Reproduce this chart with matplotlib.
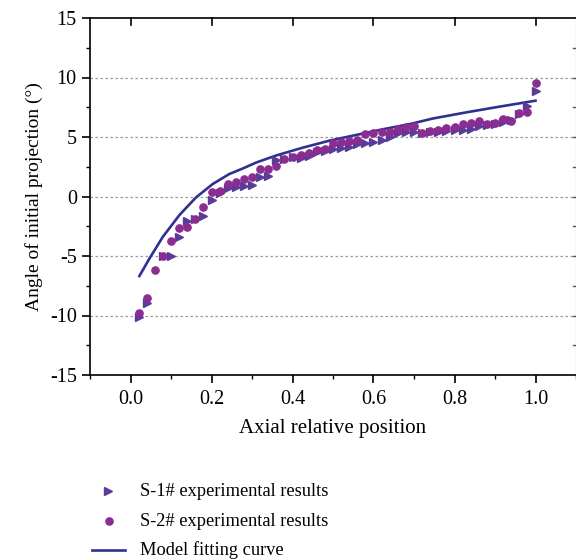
import numpy as np
import matplotlib.pyplot as plt
from matplotlib.lines import Line2D
from matplotlib.ticker import MultipleLocator

plt.rcParams['font.family'] = ['Liberation Serif', 'DejaVu Serif']
plt.rcParams['font.size'] = 13
plt.rcParams['axes.unicode_minus'] = False

# S-1# experimental results (triangles)
s1_x = [0.02, 0.04, 0.08, 0.10, 0.12, 0.14, 0.16, 0.18, 0.20, 0.22, 0.24, 0.26, 0.28, 0.30,
        0.32, 0.34, 0.36, 0.38, 0.40, 0.42, 0.44, 0.46, 0.48, 0.50, 0.52, 0.54, 0.56, 0.58,
        0.60, 0.62, 0.64, 0.66, 0.68, 0.70, 0.72, 0.74, 0.76, 0.78, 0.80, 0.82, 0.84, 0.86,
        0.88, 0.90, 0.92, 0.94, 0.96, 0.98, 1.00]
s1_y = [-10.1, -8.97, -5.0, -5.0, -3.43, -2.03, -1.9, -1.64, -0.29, 0.27, 0.69, 0.82, 0.88, 0.95,
        1.61, 1.72, 3.07, 3.15, 3.29, 3.21, 3.4, 3.7, 3.85, 3.97, 4.10, 4.19, 4.41, 4.52,
        4.61, 4.75, 5.0, 5.36, 5.45, 5.39, 5.3, 5.4, 5.45, 5.5, 5.55, 5.6, 5.7, 5.92,
        6.0, 6.1, 6.3, 6.4, 6.9, 7.6, 8.9]

# S-2# experimental results (circles)
s2_x = [0.02, 0.04, 0.06, 0.08, 0.10, 0.12, 0.14, 0.16, 0.18, 0.20, 0.22, 0.24, 0.26, 0.28,
        0.30, 0.32, 0.34, 0.36, 0.38, 0.40, 0.42, 0.44, 0.46, 0.48, 0.50, 0.52, 0.54, 0.56,
        0.58, 0.60, 0.62, 0.64, 0.66, 0.68, 0.70, 0.72, 0.74, 0.76, 0.78, 0.80, 0.82, 0.84,
        0.86, 0.88, 0.90, 0.92, 0.94, 0.96, 0.98, 1.00]
s2_y = [-9.76, -8.5, -6.2, -5.0, -3.71, -2.67, -2.59, -1.92, -0.86, 0.41, 0.49, 1.05, 1.24, 1.44,
        1.61, 2.31, 2.31, 2.56, 3.12, 3.34, 3.49, 3.68, 3.91, 3.99, 4.47, 4.61, 4.69, 4.75,
        5.23, 5.31, 5.39, 5.39, 5.65, 5.8, 5.92, 5.36, 5.53, 5.59, 5.73, 5.87, 6.06, 6.15,
        6.37, 6.06, 6.15, 6.49, 6.37, 6.99, 7.07, 9.51]

# Model fitting curve
fit_x = [0.022, 0.047, 0.08, 0.121, 0.162, 0.203, 0.244, 0.277, 0.31, 0.36, 0.425, 0.491,
         0.557, 0.623, 0.689, 0.746, 0.829, 0.911, 1.0]
fit_y = [-6.68, -5.2, -3.38, -1.55, -0.07, 1.05, 1.89, 2.35, 2.85, 3.45, 4.1, 4.69,
         5.17, 5.65, 6.08, 6.55, 7.07, 7.55, 8.05]

c_tri = '#5a3b9a'
c_cir = '#8b2c91'
c_line = '#2e3192'

fig = plt.figure(figsize=(5.76, 5.59), dpi=100)
ax = fig.add_axes([90/576, 1 - 375/559, 486/576, 357/559])

for yv in [-10, -5, 0, 5, 10]:
    ax.axhline(yv, color='#999999', lw=0.9, ls=(0, (2, 2)), zorder=0)

ax.plot(fit_x, fit_y, color=c_line, lw=1.9, zorder=3)
ax.plot(s1_x, s1_y, ls='none', marker='>', ms=6, color=c_tri, zorder=4)
ax.plot(s2_x, s2_y, ls='none', marker='o', ms=5.2, color=c_cir, zorder=4)

ax.set_xlim(-0.1, 1.1)
ax.set_ylim(-15, 15)
ax.xaxis.set_major_locator(MultipleLocator(0.2))
ax.xaxis.set_minor_locator(MultipleLocator(0.1))
ax.yaxis.set_major_locator(MultipleLocator(5))
ax.yaxis.set_minor_locator(MultipleLocator(2.5))
ax.set_xticks([0.0, 0.2, 0.4, 0.6, 0.8, 1.0])
ax.set_xticklabels(['0.0', '0.2', '0.4', '0.6', '0.8', '1.0'])

ax.tick_params(which='major', direction='out', length=6, width=1.2, labelsize=14.5)
ax.tick_params(which='minor', direction='out', length=3, width=1.0)
ax.tick_params(axis='x', which='major', pad=5)
ax.tick_params(axis='x', which='both', top=False)
ax.tick_params(axis='y', which='both', right=False)
for sp in ax.spines.values():
    sp.set_linewidth(1.2)
ax.spines['right'].set_color('#777777')
ax.spines['right'].set_linewidth(0.8)

# inward ticks on the top and right edges
for xv in [0.0, 0.2, 0.4, 0.6, 0.8, 1.0]:
    ax.plot([xv, xv], [15, 15 - 0.55], color='black', lw=1.2, clip_on=False, zorder=5)
for yv in np.arange(-12.5, 15, 2.5):
    ax.plot([1.1 - 0.008, 1.1], [yv, yv], color='#555555', lw=1.0, clip_on=False, zorder=5)

ax.set_xlabel('Axial relative position', labelpad=7, fontsize=15)
ax.set_ylabel('Angle of initial projection (°)', labelpad=5, fontsize=14)

# legend below the axes
fig.add_artist(Line2D([108/576], [1 - 491/559], marker='>', ms=6, color=c_tri, ls='none',
                      transform=fig.transFigure))
fig.add_artist(Line2D([109/576], [1 - 521/559], marker='o', ms=5.2, color=c_cir, ls='none',
                      transform=fig.transFigure))
fig.add_artist(Line2D([92/576, 125/576], [1 - 550/559, 1 - 550/559], color=c_line, lw=1.9,
                      transform=fig.transFigure))
fig.text(140/576, 1 - 491/559, 'S-1# experimental results', va='center', ha='left', fontsize=13.2)
fig.text(140/576, 1 - 521/559, 'S-2# experimental results', va='center', ha='left', fontsize=13.2)
fig.text(140/576, 1 - 550/559, 'Model fitting curve', va='center', ha='left', fontsize=13.2)

fig.savefig('out.png', dpi=100)
